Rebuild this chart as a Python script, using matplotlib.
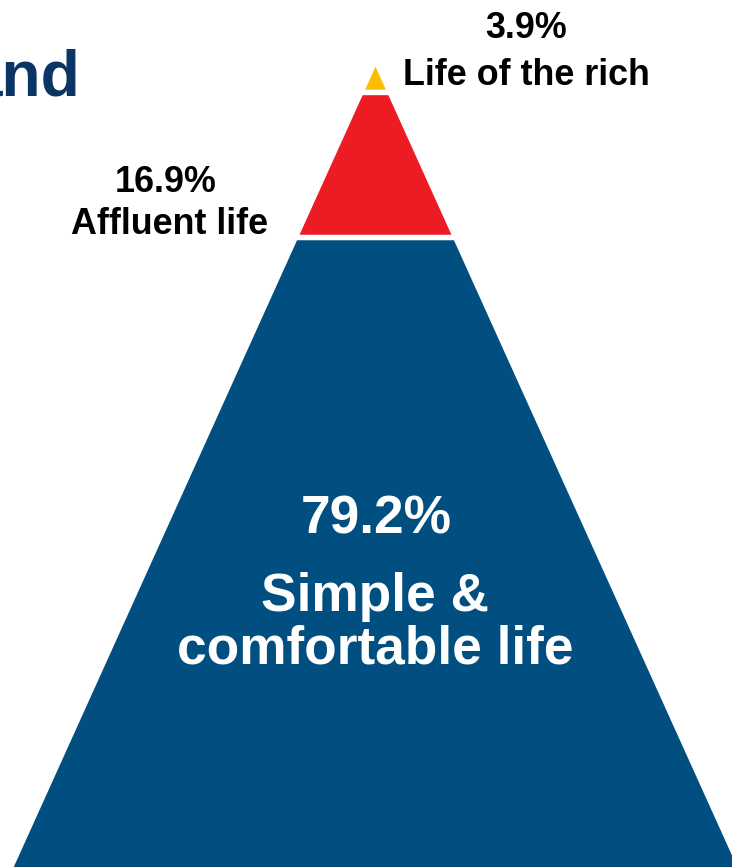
import matplotlib
matplotlib.use("Agg")
import matplotlib.pyplot as plt
import numpy as np

# ---- data ----
categories = ["Life of the rich", "Affluent life", "Simple &\ncomfortable life"]
shares = [3.9, 16.9, 79.2]
share_labels = ["3.9%", "16.9%", "79.2%"]
colors = ["#FDBE00", "#ED1C24", "#014F80"]
title_fragment = "and"

# ---- figure ----
W, H = 732, 867
fig = plt.figure(figsize=(W / 100, H / 100), dpi=100)
ax = fig.add_axes([0, 0, 1, 1])
ax.set_axis_off()

# pyramid geometry (apex at origin, y = depth downward)
SLOPE = 0.452
EXP = 1.23
SCALE = 4.31
GAP = 5.5
APEX_X, APEX_Y = 375.5, 66.7
ax.set_xlim(-APEX_X, W - APEX_X)
ax.set_ylim(H - APEX_Y, -APEX_Y)


def P(x, y):
    return x - APEX_X, y - APEX_Y


heights = SCALE * np.array(shares) ** EXP
top = 0.0
for h, c in zip(heights, colors):
    bot = top + h
    xs = [-SLOPE * top, SLOPE * top, SLOPE * bot, -SLOPE * bot]
    ys = [top, top, bot, bot]
    ax.fill(xs, ys, color=c, lw=0)
    top = bot + GAP

FONT = ["Liberation Sans", "DejaVu Sans"]
small = dict(fontsize=25.8, fontweight="bold", family=FONT, color="black",
             ha="center", va="baseline")
big = dict(fontsize=38.3, fontweight="bold", family=FONT, color="white",
           ha="center", va="baseline")

# top label
ax.text(*P(526, 38.3), share_labels[0], **small)
ax.text(*P(526, 85), categories[0], **small)
# middle label
ax.text(*P(166, 192), share_labels[1], **small)
ax.text(*P(170, 234), categories[1], **small)
# bottom label (inside)
ax.text(*P(376, 534), share_labels[2], **big)
line1, line2 = categories[2].split("\n")
ax.text(*P(375, 611), line1, **big)
ax.text(*P(375.5, 664), line2, **big)

# cut-off title fragment
ax.text(*P(80, 95), title_fragment, fontsize=46, fontweight="bold",
        family=["Liberation Sans", "DejaVu Sans"],
        color="#0B3565", ha="right", va="baseline")

fig.savefig("out.png", dpi=100)
